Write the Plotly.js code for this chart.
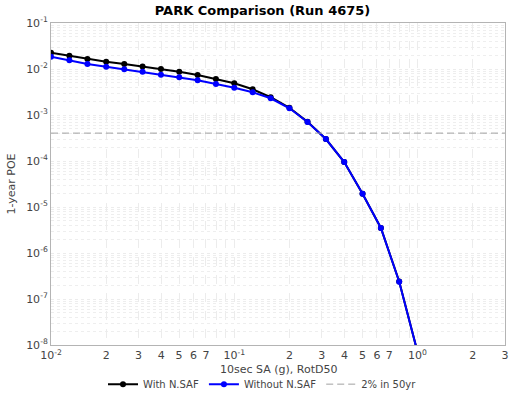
<!DOCTYPE html>
<html>
<head>
<meta charset="utf-8">
<script src="https://cdn.plot.ly/plotly-3.0.1.min.js"></script>
<style>
  html, body { margin: 0; padding: 0; background: #fff; }
  #chart { width: 525px; height: 394px; }
</style>
</head>
<body>
<div id="chart"></div>
<script>
// Intensity measure levels (g)
const imlValues = [0.01, 0.0126, 0.0158, 0.02, 0.0251, 0.0316, 0.0398, 0.0501, 0.0631, 0.0794,
                   0.1, 0.126, 0.158, 0.2, 0.251, 0.316, 0.398, 0.501, 0.631, 0.794, 1.0];
// 1-year probability of exceedance
const withNSAF = [0.0226, 0.0195, 0.0165, 0.0144, 0.0129, 0.0114, 0.0100, 0.00873, 0.00741, 0.00607,
                  0.00489, 0.00363, 0.00243, 0.00144, 7.1e-4, 3.0e-4, 9.5e-5, 1.95e-5, 3.5e-6, 2.4e-7, 7e-9];
const withoutNSAF = [0.0185, 0.0155, 0.0129, 0.01125, 0.00984, 0.00874, 0.00753, 0.00661, 0.00568, 0.00472,
                     0.00392, 0.00311, 0.00231, 0.0014, 7.05e-4, 3.0e-4, 9.5e-5, 1.95e-5, 3.5e-6, 2.38e-7, 7e-9];
// 2% in 50 years reference level
const refX = [0.01, 3];
const refLevel = 1 - Math.pow(0.98, 1 / 50);
const refY = [refLevel, refLevel];

// Tick labels
const xTickVals = [0.01, 0.02, 0.03, 0.04, 0.05, 0.06, 0.07, 0.1, 0.2, 0.3, 0.4, 0.5, 0.6, 0.7, 1, 2, 3];
const xTickText = ['10<sup>-2</sup>', '2', '3', '4', '5', '6', '7', '10<sup>-1</sup>', '2', '3', '4', '5', '6', '7', '10<sup>0</sup>', '2', '3'];
const xMinorVals = [0.08, 0.09, 0.8, 0.9];
const yTickVals = [1e-8, 1e-7, 1e-6, 1e-5, 1e-4, 1e-3, 1e-2, 1e-1];
const yTickText = ['10<sup>-8</sup>', '10<sup>-7</sup>', '10<sup>-6</sup>', '10<sup>-5</sup>', '10<sup>-4</sup>', '10<sup>-3</sup>', '10<sup>-2</sup>', '10<sup>-1</sup>'];
const xAxisTitle = '10sec SA (g), RotD50';

const font = 'DejaVu Sans, sans-serif';

const traces = [
  {
    x: imlValues, y: withNSAF, name: 'With N.SAF', type: 'scatter', mode: 'lines+markers',
    line: { color: '#000000', width: 2 }, marker: { color: '#000000', size: 6 }
  },
  {
    x: imlValues, y: withoutNSAF, name: 'Without N.SAF', type: 'scatter', mode: 'lines+markers',
    line: { color: '#0000ff', width: 2 }, marker: { color: '#0000ff', size: 6 }
  },
  {
    x: refX, y: refY, name: '2% in 50yr', type: 'scatter', mode: 'lines',
    line: { color: '#a0a0a0', width: 1, dash: '7px,4px' }
  }
];

const layout = {
  width: 525, height: 394,
  margin: { l: 51, r: 20, t: 23, b: 49 },
  paper_bgcolor: '#ffffff', plot_bgcolor: '#ffffff',
  font: { family: font, size: 11, color: '#444444' },
  title: {
    text: '<b>PARK Comparison (Run 4675)</b>',
    font: { family: font, size: 13, color: '#000000' },
    x: 0.5, xanchor: 'center', y: 0.985, yanchor: 'top'
  },
  xaxis: {
    type: 'log', range: [-2, Math.log10(3)],
    tickmode: 'array', tickvals: xTickVals, ticktext: xTickText,
    ticks: '', showline: true, mirror: true, linecolor: '#b4b4b4', linewidth: 1,
    showgrid: true, gridcolor: '#ececec', griddash: 'dash', gridwidth: 1,
    minor: { tickmode: 'array', tickvals: xMinorVals, showgrid: true, gridcolor: '#ececec', griddash: 'dash', ticks: '' },
    zeroline: false,
    tickfont: { family: font, size: 11, color: '#444444' },
    automargin: false
  },
  yaxis: {
    type: 'log', range: [-8, -1],
    tickmode: 'array', tickvals: yTickVals, ticktext: yTickText,
    ticks: '', showline: true, mirror: true, linecolor: '#b4b4b4', linewidth: 1,
    showgrid: true, gridcolor: '#ececec', griddash: 'dot', gridwidth: 1,
    minor: { dtick: 'D1', showgrid: true, gridcolor: '#eeeeee', griddash: 'dot', ticks: '' },
    zeroline: false,
    tickfont: { family: font, size: 11, color: '#444444' },
    title: { text: '1-year POE', font: { family: font, size: 11, color: '#444444' }, standoff: 8 },
    automargin: false
  },
  annotations: [
    {
      text: xAxisTitle, xref: 'paper', yref: 'paper', x: 0.5, y: -0.077,
      xanchor: 'center', yanchor: 'middle', showarrow: false,
      font: { family: font, size: 11, color: '#444444' }
    }
  ],
  showlegend: true,
  legend: {
    orientation: 'h', x: 0.5, xanchor: 'center', xref: 'container',
    y: 0.025, yanchor: 'middle', yref: 'container',
    font: { family: font, size: 10, color: '#444444' },
    itemwidth: 30, tracegroupgap: 0, bgcolor: 'rgba(0,0,0,0)'
  }
};

Plotly.newPlot('chart', traces, layout, { displayModeBar: false, staticPlot: true });
</script>
</body>
</html>
